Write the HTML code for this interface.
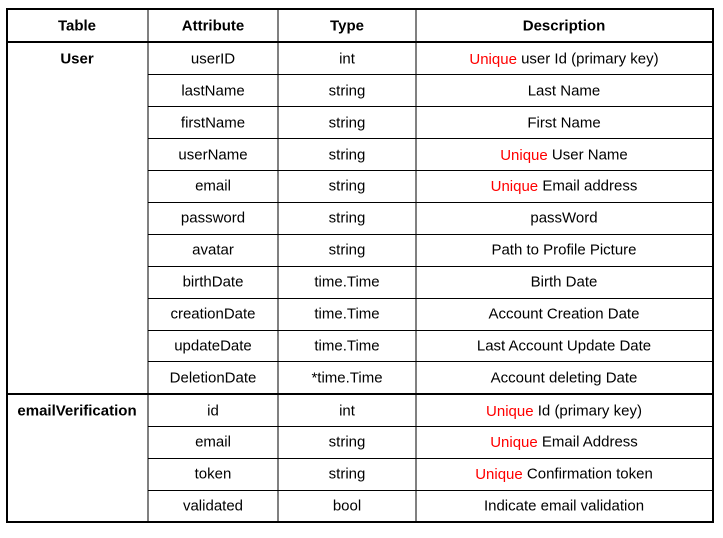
<!DOCTYPE html>
<html><head><meta charset="utf-8"><style>
html,body{margin:0;padding:0;background:#fff;}
svg text{font-family:"Liberation Sans",Arial,sans-serif;font-size:15px;fill:#000;text-anchor:middle;dominant-baseline:central;}
.b{font-weight:bold;}
.r{fill:#f00;}
</style></head><body>
<svg width="723" height="533" xmlns="http://www.w3.org/2000/svg">
<rect x="0" y="0" width="723" height="533" fill="#fff"/>
<g stroke="#000" stroke-width="1">
<line x1="148" y1="9" x2="148" y2="522"/>
<line x1="278" y1="9" x2="278" y2="522"/>
<line x1="416" y1="9" x2="416" y2="522"/>
<line x1="148" y1="74.5" x2="713" y2="74.5"/>
<line x1="148" y1="106.5" x2="713" y2="106.5"/>
<line x1="148" y1="138.5" x2="713" y2="138.5"/>
<line x1="148" y1="170.5" x2="713" y2="170.5"/>
<line x1="148" y1="202.5" x2="713" y2="202.5"/>
<line x1="148" y1="234.5" x2="713" y2="234.5"/>
<line x1="148" y1="266.5" x2="713" y2="266.5"/>
<line x1="148" y1="298.5" x2="713" y2="298.5"/>
<line x1="148" y1="330.5" x2="713" y2="330.5"/>
<line x1="148" y1="361.5" x2="713" y2="361.5"/>
<line x1="148" y1="426.5" x2="713" y2="426.5"/>
<line x1="148" y1="458.5" x2="713" y2="458.5"/>
<line x1="148" y1="490.5" x2="713" y2="490.5"/>
</g>
<g stroke="#000" stroke-width="2" fill="none">
<rect x="7" y="9" width="706" height="513"/>
<line x1="7" y1="42" x2="713" y2="42"/>
<line x1="7" y1="394" x2="713" y2="394"/>
</g>
<text class="b" x="77" y="26">Table</text>
<text class="b" x="213" y="26">Attribute</text>
<text class="b" x="347" y="26">Type</text>
<text class="b" x="564" y="26">Description</text>
<text class="b" x="77" y="59">User</text>
<text class="b" x="77" y="411">emailVerification</text>

<text x="213" y="59">userID</text><text x="347" y="59">int</text><text x="564" y="59"><tspan class="r">Unique</tspan> user Id (primary key)</text>
<text x="213" y="91">lastName</text><text x="347" y="91">string</text><text x="564" y="91">Last Name</text>
<text x="213" y="123">firstName</text><text x="347" y="123">string</text><text x="564" y="123">First Name</text>
<text x="213" y="155">userName</text><text x="347" y="155">string</text><text x="564" y="155"><tspan class="r">Unique</tspan> User Name</text>
<text x="213" y="186">email</text><text x="347" y="186">string</text><text x="564" y="186"><tspan class="r">Unique</tspan> Email address</text>
<text x="213" y="218">password</text><text x="347" y="218">string</text><text x="564" y="218">passWord</text>
<text x="213" y="250">avatar</text><text x="347" y="250">string</text><text x="564" y="250">Path to Profile Picture</text>
<text x="213" y="282">birthDate</text><text x="347" y="282">time.Time</text><text x="564" y="282">Birth Date</text>
<text x="213" y="314">creationDate</text><text x="347" y="314">time.Time</text><text x="564" y="314">Account Creation Date</text>
<text x="213" y="346">updateDate</text><text x="347" y="346">time.Time</text><text x="564" y="346">Last Account Update Date</text>
<text x="213" y="378">DeletionDate</text><text x="347" y="378">*time.Time</text><text x="564" y="378">Account deleting Date</text>
<text x="213" y="411">id</text><text x="347" y="411">int</text><text x="564" y="411"><tspan class="r">Unique</tspan> Id (primary key)</text>
<text x="213" y="442">email</text><text x="347" y="442">string</text><text x="564" y="442"><tspan class="r">Unique</tspan> Email Address</text>
<text x="213" y="474">token</text><text x="347" y="474">string</text><text x="564" y="474"><tspan class="r">Unique</tspan> Confirmation token</text>
<text x="213" y="506">validated</text><text x="347" y="506">bool</text><text x="564" y="506">Indicate email validation</text>
</svg>
</body></html>
